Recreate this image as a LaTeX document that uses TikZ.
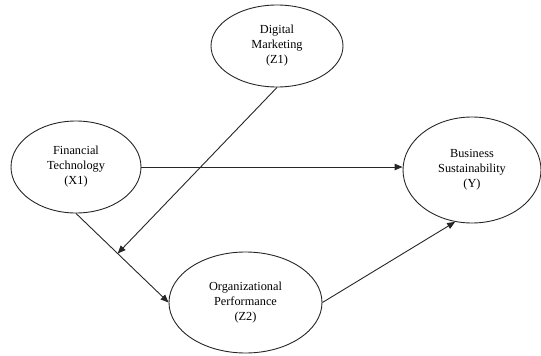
\documentclass[tikz,border=0pt]{standalone}
\usepackage{fontspec}
\setmainfont{Liberation Serif}
\usetikzlibrary{shapes.geometric,arrows.meta,calc}
\begin{document}
\begin{tikzpicture}[x=1pt,y=-1pt,
  var/.style={ellipse,draw=black!85,line width=0.9pt,inner sep=0pt,align=center,
    font=\fontsize{12.3}{15}\selectfont},
  conn/.style={draw=black!85,line width=0.9pt,-{Triangle[length=8pt,width=6.5pt]}}]
\useasboundingbox (0,0) rectangle (541,356);
\node[var,minimum width=132pt,minimum height=82pt] (z1) at (277,46) {Digital\\Marketing\\(Z1)};
\node[var,minimum width=130pt,minimum height=92pt] (x1) at (76,167) {Financial\\Technology\\(X1)};
\node[var,minimum width=138pt,minimum height=106pt] (y) at (472,170) {Business\\Sustainability\\(Y)};
\node[var,minimum width=153pt,minimum height=101pt] (z2) at (245.5,302.5) {Organizational\\Performance\\(Z2)};
\draw[conn] (x1.east) -- (x1.east -| y.west);
\draw[conn] (x1.south) -- (z2.west);
\coordinate (m) at ($(x1.south)!0.45!(z2.west)$);
\draw[conn] (z1.south) -- (m);
\draw[conn] (z2.east) -- (y.252);
\end{tikzpicture}
\end{document}
